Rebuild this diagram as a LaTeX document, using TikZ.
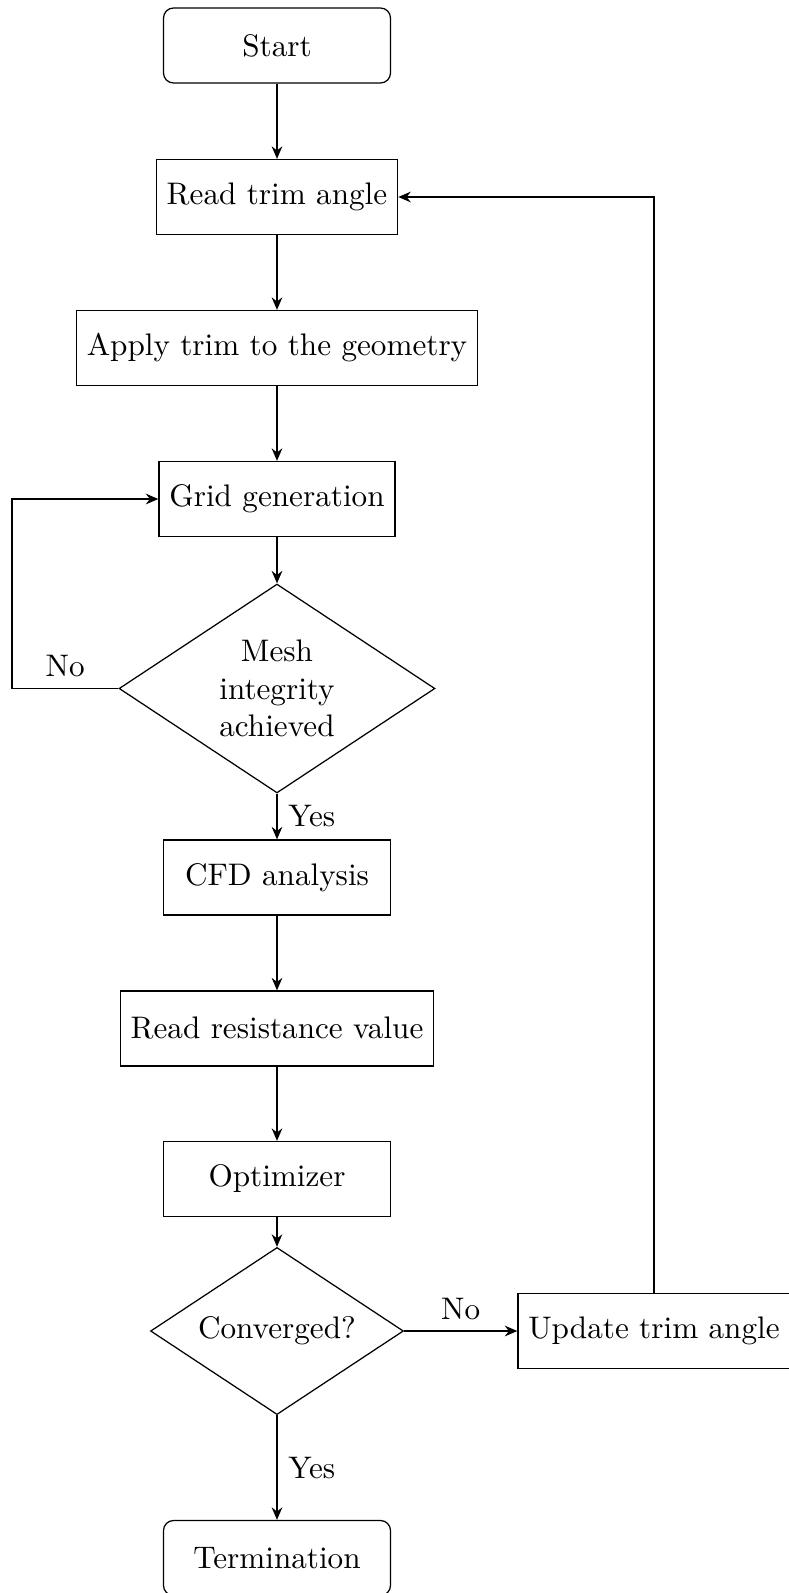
\documentclass[tikz,border=0pt]{standalone}
\usetikzlibrary{shapes.geometric,arrows.meta}
\begin{document}
\begin{tikzpicture}[x=0.3207pt,y=-0.3207pt,
  box/.style={draw,rectangle,minimum height=24.05pt,inner xsep=3.333pt},
  fixbox/.style={box,minimum width=72.8pt},
  term/.style={fixbox,rounded corners=3.2pt},
  dec/.style={draw,diamond,inner sep=0pt,align=center},
  conn/.style={semithick,-{Stealth[length=4pt,width=3.4pt]}},
  lbl/.style={inner sep=3.333pt}]
\path[use as bounding box] (0,0) rectangle (789,1593);
\node[term] (start) at (277,45.5) {Start};
\node[box] (read) at (277,197) {Read trim angle};
\node[box] (apply) at (277,348) {Apply trim to the geometry};
\node[box] (grid) at (277,499) {Grid generation};
\node[dec,shape aspect=1.5,minimum width=101.3pt,minimum height=67pt] (mesh) at (277,688.5) {Mesh\\integrity\\achieved};
\node[fixbox] (cfd) at (277,877.5) {CFD analysis};
\node[box] (res) at (277,1028.5) {Read resistance value};
\node[fixbox] (opt) at (277,1179) {Optimizer};
\node[dec,shape aspect=1.51,minimum width=81.1pt,minimum height=53.6pt] (conv) at (277,1331) {Converged?};
\node[box] (upd) at (654,1331) {Update trim angle};
\node[term] (end) at (277,1558) {Termination};
\coordinate (lx) at (12,0);
\draw[conn] (start) -- (read);
\draw[conn] (read) -- (apply);
\draw[conn] (apply) -- (grid);
\draw[conn] (grid) -- (mesh);
\draw[conn] (mesh) -- node[lbl,right] {Yes} (cfd);
\draw[conn] (cfd) -- (res);
\draw[conn] (res) -- (opt);
\draw[conn] (opt) -- (conv);
\draw[conn] (conv) -- node[lbl,right] {Yes} (end);
\draw[conn] (conv) -- node[lbl,above] {No} (upd);
\draw[conn] (upd.north) |- (read.east);
\draw[conn] (mesh.west) -- node[lbl,above] {No} (mesh.west -| lx) |- (grid.west);
\end{tikzpicture}
\end{document}
